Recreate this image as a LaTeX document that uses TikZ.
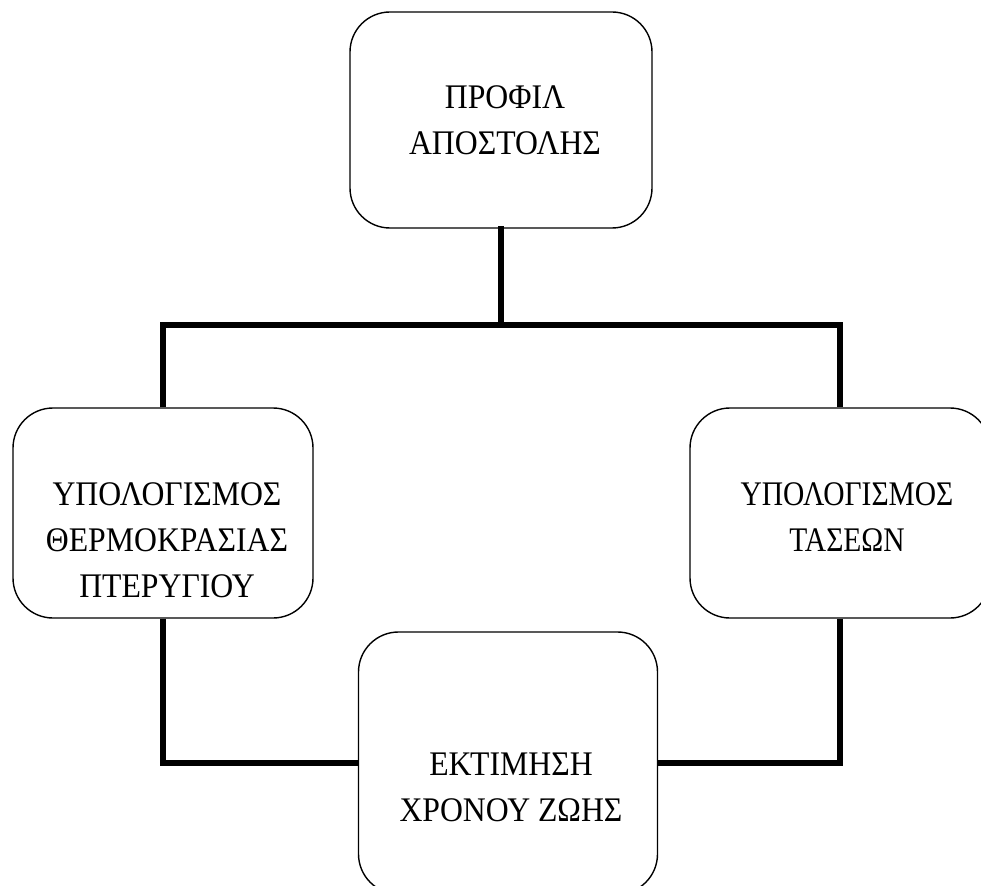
\documentclass[tikz,border=0pt]{standalone}
\usepackage{graphicx}
\usepackage{fontspec}
\setmainfont{Liberation Serif}
% slightly condensed lines of box text
\newcommand{\boxline}[1]{\scalebox{0.92}[1]{#1}}
\newcommand{\tightline}[1]{\scalebox{0.855}[1]{#1}}
\begin{document}
\begin{tikzpicture}[x=1pt,y=-1pt,
  box/.style={draw=black,line width=1.4pt,rounded corners=40pt,inner sep=0pt},
  caption/.style={anchor=north,align=center,inner sep=0pt,
    font=\fontsize{34.5}{46}\selectfont},
  link/.style={draw=black,line width=6pt,line cap=butt}]
\useasboundingbox (0,0) rectangle (981,885);

% the four process boxes
\node[box,minimum width=302pt,minimum height=216pt] (profile) at (501,120) {};
\node[box,minimum width=300pt,minimum height=210pt] (thermal) at (163,513) {};
\node[box,minimum width=300pt,minimum height=210pt] (stress) at (840,513) {};
\node[box,minimum width=299pt,minimum height=262pt] (life) at (508,763) {};

% box texts
\node[caption] (profileText) at (505,85) {\boxline{ΠΡΟΦΙΛ}\\\boxline{ΑΠΟΣΤΟΛΗΣ}};
\node[caption] (thermalText) at (167,482)
  {\boxline{ΥΠΟΛΟΓΙΣΜΟΣ}\\\boxline{ΘΕΡΜΟΚΡΑΣΙΑΣ}\\\boxline{ΠΤΕΡΥΓΙΟΥ}};
\node[caption] (stressText) at (847,482) {\tightline{ΥΠΟΛΟΓΙΣΜΟΣ}\\\tightline{ΤΑΣΕΩΝ}};
\node[caption] (lifeText) at (511,753) {\boxline{ΕΚΤΙΜΗΣΗ}\\\boxline{ΧΡΟΝΟΥ ΖΩΗΣ}};

% distribution bus
\coordinate (busL) at (163,325);
\coordinate (busR) at (840,325);

\draw[link,line cap=rect] (profile.south) -- (profile.south |- busL);
\draw[link] (thermal.north) -- (busL) -- (busR) -- (stress.north);
\draw[link] (thermal.south) |- (life.west);
\draw[link] (stress.south) |- (life.east);
\end{tikzpicture}
\end{document}
